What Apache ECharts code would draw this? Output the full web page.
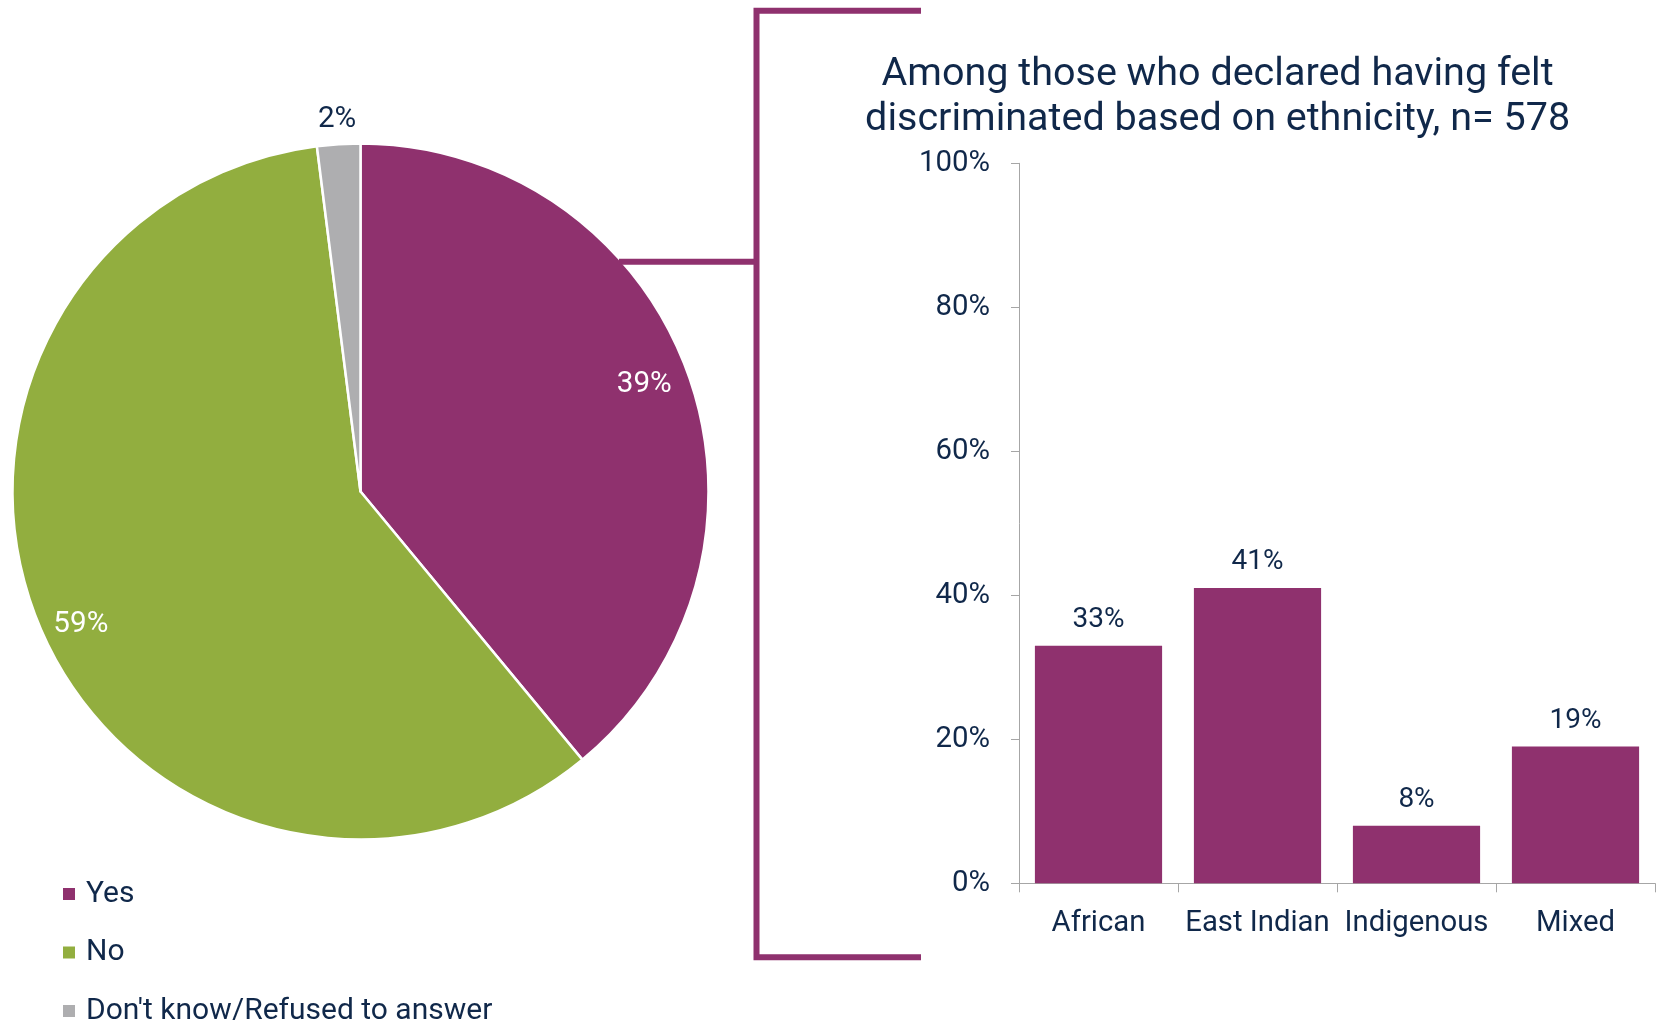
<!DOCTYPE html>
<html>
<head>
<meta charset="utf-8">
<script src="https://cdn.jsdelivr.net/npm/echarts@6/dist/echarts.min.js"></script>
<style>
html,body{margin:0;padding:0;background:#fff;}
#chart{width:1658px;height:1020px;}
</style>
</head>
<body>
<div id="chart"></div>
<script>
// ---- data ----
const pieCategories = ['Yes', 'No', "Don't know/Refused to answer"];
const pieValues = [39, 59, 2];
const barCategories = ['African', 'East Indian', 'Indigenous', 'Mixed'];
const barValues = [33, 41, 8, 19];
const yTicks = [0, 20, 40, 60, 80, 100];
const titleLines = ['Among those who declared having felt', 'discriminated based on ethnicity, n= 578'];

// ---- style ----
const PURPLE = '#8F316E';
const GREEN = '#92AE3F';
const GRAY = '#AEAEB0';
const NAVY = '#10284A';
const FONT = 'Roboto';
const pieColors = [PURPLE, GREEN, GRAY];
const CX = 360.5, CY = 491.5, R = 348;
const innerLabelNudge = [[-6, -3], [3, 11], [0, 0]];

const chart = echarts.init(document.getElementById('chart'), null, {renderer: 'canvas'});

const pieData = pieCategories.map((n, i) => ({name: n, value: pieValues[i], itemStyle: {color: pieColors[i]}}));
const transparentData = (labelIdx, color) => pieCategories.map((n, i) => ({
  name: n, value: pieValues[i],
  itemStyle: {color: 'rgba(0,0,0,0)', borderWidth: 0},
  label: {show: labelIdx.indexOf(i) >= 0, color: color}
}));

const option = {
  backgroundColor: '#ffffff',
  animation: false,
  textStyle: {fontFamily: FONT},
  title: {
    text: titleLines.join('\n'),
    left: 1217.6, top: 53, textAlign: 'center', padding: 0,
    textStyle: {fontFamily: FONT, fontSize: 39.5, fontWeight: 'normal', color: NAVY, lineHeight: 45}
  },
  legend: {
    data: pieCategories,
    orient: 'vertical',
    left: 61, top: 879, height: 300, padding: 0,
    itemWidth: 14, itemHeight: 14, itemGap: 28.5,
    icon: 'rect',
    selectedMode: false,
    textStyle: {fontFamily: FONT, fontSize: 30, color: NAVY, lineHeight: 30, padding: [0, 0, 0, 5]}
  },
  grid: {left: 1019, right: 3, top: 163.3, bottom: 136.7, containLabel: false},
  xAxis: {
    type: 'category', data: barCategories,
    axisLine: {show: true, lineStyle: {color: '#A6A6A6', width: 1}},
    axisTick: {show: true, length: 9, lineStyle: {color: '#A6A6A6'}},
    axisLabel: {fontFamily: FONT, fontSize: 29.3, color: NAVY, margin: 26, interval: 0}
  },
  yAxis: {
    type: 'value', min: yTicks[0], max: yTicks[yTicks.length - 1], interval: yTicks[1] - yTicks[0],
    axisLine: {show: true, lineStyle: {color: '#A6A6A6', width: 1}},
    axisTick: {show: true, length: 8, lineStyle: {color: '#A6A6A6'}},
    splitLine: {show: false},
    axisLabel: {fontFamily: FONT, fontSize: 29.4, color: NAVY, margin: 29, formatter: '{value}%'}
  },
  series: [
    {
      type: 'pie', name: 'main', center: [CX, CY], radius: [0, R],
      startAngle: 90, clockwise: true, avoidLabelOverlap: false,
      data: pieData,
      itemStyle: {borderColor: '#ffffff', borderWidth: 2.5},
      label: {show: false}, labelLine: {show: false},
      emphasis: {disabled: true}
    },
    {
      type: 'pie', name: 'innerLabels', center: [CX, CY], radius: [262, R],
      startAngle: 90, clockwise: true, avoidLabelOverlap: false, silent: true,
      data: transparentData([0, 1], '#ffffff'),
      label: {position: 'inside', fontFamily: FONT, fontSize: 29.6},
      labelLayout: function (p) { const d = innerLabelNudge[p.dataIndex]; return {dx: d[0], dy: d[1]}; },
      labelLine: {show: false}, emphasis: {disabled: true}, z: 3
    },
    {
      type: 'pie', name: 'outerLabels', center: [CX, CY], radius: [R, 392],
      startAngle: 90, clockwise: true, avoidLabelOverlap: false, silent: true,
      data: transparentData([2], NAVY),
      label: {position: 'inside', fontFamily: FONT, fontSize: 29.6},
      labelLine: {show: false}, emphasis: {disabled: true}, z: 3
    },
    {
      type: 'bar', data: barValues, barCategoryGap: '20%',
      itemStyle: {color: PURPLE},
      label: {show: true, position: 'top', distance: 12, fontFamily: FONT, fontSize: 28, color: NAVY, formatter: '{c}%'},
      emphasis: {disabled: true}
    }
  ],
  graphic: [
    {
      type: 'polyline', z: 10,
      shape: {points: [[921, 10.7], [756.5, 10.7], [756.5, 957.3], [921, 957.3]]},
      style: {stroke: PURPLE, lineWidth: 6, fill: null, lineJoin: 'miter'}
    },
    {
      type: 'line', z: 10,
      shape: {x1: 619, y1: 261.7, x2: 756.5, y2: 261.7},
      style: {stroke: PURPLE, lineWidth: 6}
    }
  ]
};
option.series[1].label.formatter = '{c}%';
option.series[2].label.formatter = '{c}%';
chart.setOption(option);
</script>
</body>
</html>
